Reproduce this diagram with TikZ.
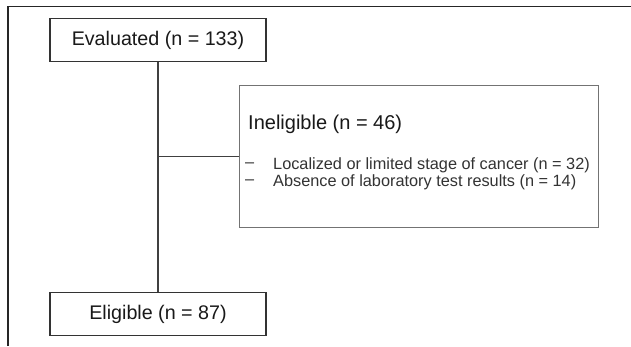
\documentclass[tikz,border=0pt]{standalone}
\usepackage{fontspec}
\setmainfont{Liberation Sans}
\begin{document}
\begin{tikzpicture}[x=1pt,y=1pt,
  boxline/.style={draw=black!80, line width=1.2pt},
  flowbox/.style={boxline, rectangle, minimum width=216pt, minimum height=43pt,
    inner sep=0pt, font=\fontsize{19.7}{22}\selectfont, text=black!90},
  notebox/.style={draw=black!55, line width=1.1pt, rectangle, minimum width=359pt,
    minimum height=142pt, inner sep=0pt, anchor=north west},
  notetitle/.style={anchor=west, inner sep=0pt, font=\fontsize{20}{22}\selectfont, text=black!90},
  noteitem/.style={anchor=west, inner sep=0pt, font=\fontsize{16.3}{18}\selectfont, text=black!80},
  link/.style={draw=black!75, line width=1.1pt}]
\useasboundingbox (0,0) rectangle (631,-346);
\fill[white] (0,0) rectangle (631,-346);
% outer frame (top and left edges)
\draw[black!85, line width=1.4pt] (8,-346) -- (8,-6.5) -- (631,-6.5);

\node[flowbox] (eval) at (158,-40) {Evaluated (n = 133)};
\node[flowbox] (elig) at (158,-314) {Eligible (n = 87)};
\node[notebox] (inel) at (239,-85) {};

\node[notetitle] (title) at (248,-124) {Ineligible (n = 46)};
\node[noteitem] (d1) at (245,-165) {--};
\node[noteitem] (i1) at (273,-165) {Localized or limited stage of cancer (n = 32)};
\node[noteitem] (d2) at (245,-182) {--};
\node[noteitem] (i2) at (273,-182) {Absence of laboratory test results (n = 14)};

\coordinate (join) at (eval.south |- inel.west);
\draw[link] (eval.south) -- (elig.north);
\draw[link] (join) -- (inel.west);
\end{tikzpicture}
\end{document}
